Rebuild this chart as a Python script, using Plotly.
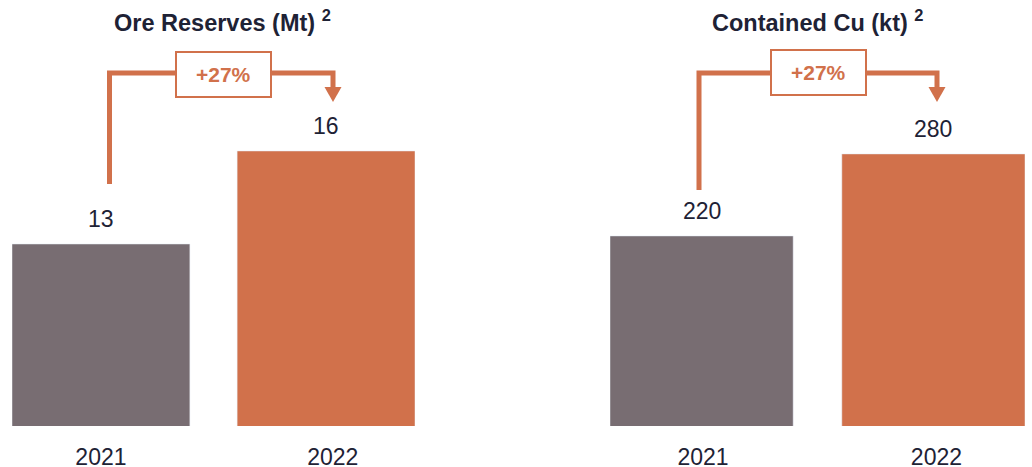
import plotly.graph_objects as go

# ---- data ----
years = ["2021", "2022"]
ore_reserves_mt = [13, 16]
contained_cu_kt = [220, 280]
change_labels = ["+27%", "+27%"]
titles = ["Ore Reserves (Mt) <sup>2</sup>", "Contained Cu (kt) <sup>2</sup>"]

GREY = "#786D72"
ORANGE = "#D1714B"
DARK = "#1E2235"
FONT = "Liberation Sans, Arial, sans-serif"
W, H = 1032, 467

def px(x):
    return x / W

def py(y):
    return 1 - y / H

fig = go.Figure()
fig.add_trace(go.Bar(x=years, y=ore_reserves_mt, marker_color=[GREY, ORANGE],
                     width=0.79, xaxis="x", yaxis="y", hoverinfo="skip"))
fig.add_trace(go.Bar(x=years, y=contained_cu_kt, marker_color=[GREY, ORANGE],
                     width=0.79, xaxis="x2", yaxis="y2", hoverinfo="skip"))

ybot = (H - 426) / H
common_x = dict(type="category", range=[-0.395, 1.395], showgrid=False, zeroline=False,
                showline=False, ticks="outside", tickcolor="rgba(0,0,0,0)", ticklen=10,
                tickfont=dict(family=FONT, size=23, color=DARK), automargin=False, fixedrange=True)
common_y = dict(showgrid=False, zeroline=False, showline=False, showticklabels=False,
                domain=[ybot, 1], automargin=False, fixedrange=True)

fig.update_layout(
    width=W, height=H, margin=dict(l=0, r=0, t=0, b=0),
    paper_bgcolor="white", plot_bgcolor="white", showlegend=False,
    xaxis=dict(domain=[px(12), px(415)], anchor="y", tickmode="array",
               tickvals=[0, 1.03], ticktext=years, **common_x),
    xaxis2=dict(domain=[px(610), px(1025)], anchor="y2", tickmode="array",
                tickvals=[0.006, 1.013], ticktext=years, **common_x),
    yaxis=dict(range=[7.13, 20.87], anchor="x", **common_y),
    yaxis2=dict(range=[80.98, 392.6], anchor="x2", **common_y),
)

# value labels above bars
for xr, yr, vals in [("x", "y", ore_reserves_mt), ("x2", "y2", contained_cu_kt)]:
    for i, v in enumerate(vals):
        fig.add_annotation(x=i, y=v, xref=xr, yref=yr, text=str(v), showarrow=False,
                           yanchor="bottom", yshift=10,
                           font=dict(family=FONT, size=23, color=DARK))

# titles
for cx, t in zip([222, 818], titles):
    fig.add_annotation(x=px(cx), y=py(21), xref="paper", yref="paper", text="<b>" + t + "</b>",
                       showarrow=False, xanchor="center", yanchor="middle",
                       font=dict(family=FONT, size=23.5, color=DARK))

# connector arrows with change boxes
arrows = [
    dict(xv=109.5, yb=184, yh=73, xe=333, box=(176, 52, 271, 97)),
    dict(xv=699, yb=190, yh=73, xe=937, box=(771, 50, 866, 95)),
]
for a, lbl in zip(arrows, change_labels):
    path = f"M {px(a['xv'])} {py(a['yb'])} L {px(a['xv'])} {py(a['yh'])} L {px(a['xe'])} {py(a['yh'])} L {px(a['xe'])} {py(88)}"
    fig.add_shape(type="path", path=path, xref="paper", yref="paper",
                  line=dict(color=ORANGE, width=5))
    tri = f"M {px(a['xe']-8.5)} {py(87)} L {px(a['xe']+8.5)} {py(87)} L {px(a['xe'])} {py(102)} Z"
    fig.add_shape(type="path", path=tri, xref="paper", yref="paper",
                  fillcolor=ORANGE, line=dict(color=ORANGE, width=0))
    bx0, by0, bx1, by1 = a["box"]
    fig.add_shape(type="rect", x0=px(bx0), x1=px(bx1), y0=py(by0), y1=py(by1),
                  xref="paper", yref="paper", fillcolor="white", line=dict(color=ORANGE, width=2))
    fig.add_annotation(x=px((bx0 + bx1) / 2), y=py((by0 + by1) / 2), xref="paper", yref="paper",
                       text="<b>" + lbl + "</b>", showarrow=False, xanchor="center", yanchor="middle",
                       font=dict(family=FONT, size=21, color=ORANGE))

fig.write_html("out.html", config={"displayModeBar": False},
               post_script="document.body.style.margin='0';document.body.style.overflow='hidden';")
